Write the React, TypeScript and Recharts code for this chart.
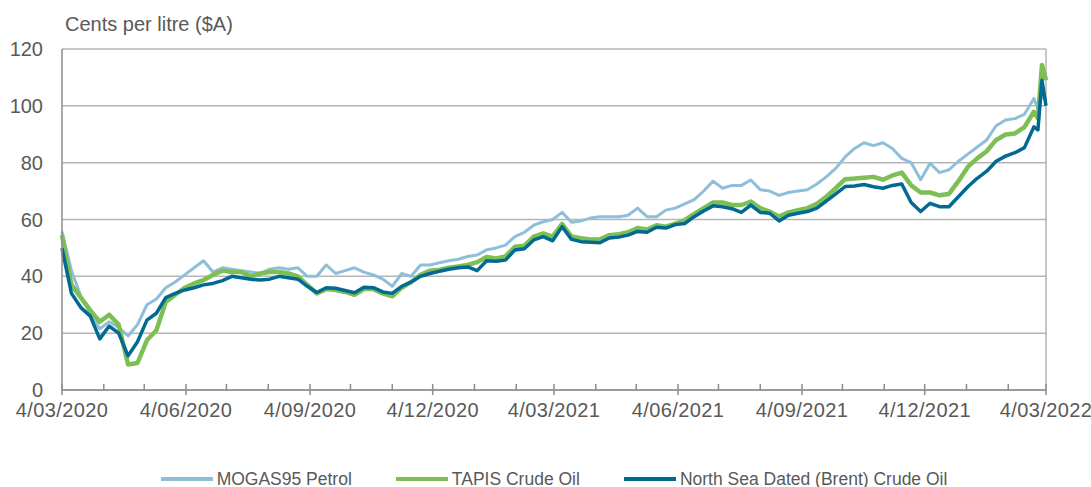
import React from 'react';
import { LineChart, Line, XAxis, YAxis, CartesianGrid, ReferenceLine } from 'recharts';

// weekly samples from 4 Mar 2020, then the last few days to 4 Mar 2022
const START = Date.UTC(2020, 2, 4);
const DAY = 86400000;
const weekOffsets = Array.from({ length: 104 }, (_, i) => i * 7);
const finalDays = [724, 727, 730];
const dayOffsets = [...weekOffsets, ...finalDays];

const mogas = [
  55.7, 42, 33, 27, 21.5, 24, 22, 19, 23, 30, 32, 36, 38,
  40.5, 43, 45.5, 41.5, 43, 42.5, 42, 41.5, 41, 42.5, 43, 42.5, 43,
  40, 40, 44, 41, 42, 43, 41.5, 40.5, 39, 36.5, 41, 40, 44,
  44, 44.8, 45.5, 46, 47, 47.5, 49.3, 50, 51, 54, 55.5, 58, 59.2,
  60, 62.5, 59, 59.5, 60.5, 61, 61, 61, 61.5, 64, 61, 61, 63.3,
  64, 65.5, 67, 70, 73.5, 71, 72, 72, 73.9, 70.5, 70, 68.5, 69.5,
  70, 70.5, 72.5, 75, 78, 82, 85, 87, 86, 87, 85, 81.5, 80,
  74, 79.8, 76.5, 77.5, 80.5, 83, 85.5, 88, 93, 95, 95.5, 97, 102.6,
  99, 103.5, 102,
];

const tapis = [
  54.5, 37, 32.5, 28, 24, 26.5, 23, 9, 9.5, 17.5, 21, 31, 33.5,
  36, 37.5, 38.7, 40.5, 42, 41.5, 41.5, 40, 41, 41.5, 41.5, 41, 40,
  37, 34, 35.5, 35.2, 34.5, 33.5, 35.5, 35.5, 34, 33, 36, 38, 40.5,
  42, 42.3, 43, 43.5, 44, 45, 46.8, 46.3, 47, 50.4, 50.8, 54, 55.1,
  54, 58.5, 54, 53.4, 53, 53, 54.5, 54.8, 55.5, 57, 56.5, 58, 57.5,
  58.5, 59.8, 62, 64, 66, 66, 65.1, 65.1, 66.3, 64, 62.8, 61, 62.5,
  63.3, 64, 65.5, 68, 71, 74.2, 74.4, 74.7, 75, 74, 75.5, 76.5, 72,
  69.5, 69.5, 68.5, 69, 73.5, 78.5, 81.5, 84, 88, 89.9, 90.3, 92.5, 97.9,
  95.6, 114.4, 109,
];

const brent = [
  49.9, 34, 29, 26, 18, 22.5, 20, 12, 17, 24.6, 27, 32.5, 34,
  35.2, 36, 37, 37.5, 38.5, 40, 39.5, 39, 38.7, 39, 40, 39.5, 39,
  36.5, 34.3, 36, 35.8, 35, 34.2, 36.2, 36, 34.5, 34, 36.5, 38, 40,
  41, 41.8, 42.5, 43, 43.3, 42, 45.5, 45.3, 45.7, 49.3, 49.7, 52.8, 54,
  52.5, 57.5, 53, 52.2, 52, 51.8, 53.5, 53.8, 54.5, 55.8, 55.5, 57.3, 57,
  58.2, 58.6, 61, 63, 64.8, 64.5, 63.8, 62.5, 65.1, 62.5, 62.2, 59.5, 61.5,
  62.2, 62.8, 64, 66.5, 69, 71.6, 71.8, 72.3, 71.5, 71, 72, 72.5, 66,
  62.8, 65.7, 64.5, 64.5, 68, 71.5, 74.5, 77, 80.5, 82.3, 83.5, 85.3, 92.6,
  91.5, 109, 100,
];

const yTicks = [0, 20, 40, 60, 80, 100, 120];

const series = [
  { key: 'mogas', name: 'MOGAS95 Petrol', color: '#8FBEDA', width: 3 },
  { key: 'tapis', name: 'TAPIS Crude Oil', color: '#7DBE55', width: 4.5 },
  { key: 'brent', name: 'North Sea Dated (Brent) Crude Oil', color: '#006A93', width: 3.5 },
];

const data = dayOffsets.map((day, i) => ({
  day,
  mogas: mogas[i],
  tapis: tapis[i],
  brent: brent[i],
}));

// month ticks (4th of each month), labels every quarter
const monthTicks = Array.from({ length: 25 }, (_, m) => (Date.UTC(2020, 2 + m, 4) - START) / DAY);

const tickLabel = (day: number) => {
  const d = new Date(START + day * DAY);
  const mm = String(d.getUTCMonth() + 1).padStart(2, '0');
  return `${d.getUTCDate()}/${mm}/${d.getUTCFullYear()}`;
};

const TEXT = '#595959';
const AXIS = '#8C8C8C';
const GRID = '#B5B5B5';
const FONT = '"Liberation Sans", Arial, sans-serif';

function MonthTick(props: any) {
  const { x, y, payload, index } = props;
  const major = index % 3 === 0;
  return (
    <g>
      <line x1={x} x2={x} y1={y - 6} y2={major ? y + 5 : y} stroke={AXIS} strokeWidth={1.5} />
      {major && (
        <text x={x} y={y + 27} textAnchor="middle" fill={TEXT} fontSize={20} letterSpacing={0.4} fontFamily={FONT}>
          {tickLabel(payload.value)}
        </text>
      )}
    </g>
  );
}

export default function App() {
  return (
    <div style={{ position: 'relative', width: 1091, height: 487, fontFamily: FONT, overflow: 'hidden' }}>
      <style>{'body{margin:0}'}</style>
      <div style={{ position: 'absolute', left: 65, top: 13, fontSize: 20, lineHeight: '22px', color: TEXT }}>
        Cents per litre ($A)
      </div>
      <LineChart width={1091} height={487} data={data} margin={{ top: 49, right: 45, left: 0, bottom: 67 }}>
        <CartesianGrid vertical={false} stroke={GRID} strokeWidth={1.5} />
        <XAxis
          dataKey="day"
          type="number"
          domain={[0, 730]}
          ticks={monthTicks}
          interval={0}
          height={30}
          tickSize={0}
          tickMargin={0}
          tickLine={false}
          axisLine={{ stroke: AXIS, strokeWidth: 1.5 }}
          tick={<MonthTick />}
        />
        <YAxis
          domain={[0, 120]}
          ticks={yTicks}
          width={62}
          tickSize={0}
          tickMargin={19}
          tickLine={false}
          axisLine={{ stroke: AXIS, strokeWidth: 1.5 }}
          tick={{ fill: TEXT, fontSize: 20, fontFamily: FONT }}
        />
        <ReferenceLine x={730} stroke={GRID} strokeWidth={1.5} />
        {series.map((s) => (
          <Line
            key={s.key}
            type="linear"
            dataKey={s.key}
            name={s.name}
            stroke={s.color}
            strokeWidth={s.width}
            strokeLinejoin="round"
            dot={false}
            isAnimationActive={false}
          />
        ))}
      </LineChart>
      <div
        style={{
          position: 'absolute',
          left: 62,
          width: 984,
          top: 469,
          height: 20,
          display: 'flex',
          justifyContent: 'center',
          alignItems: 'center',
          gap: 44,
          fontSize: 17.5,
          color: TEXT,
        }}
      >
        {series.map((s) => (
          <div key={s.key} style={{ display: 'flex', alignItems: 'center' }}>
            <span style={{ display: 'inline-block', width: 52, height: 4, background: s.color, marginRight: 4 }} />
            <span style={{ whiteSpace: 'nowrap' }}>{s.name}</span>
          </div>
        ))}
      </div>
    </div>
  );
}
